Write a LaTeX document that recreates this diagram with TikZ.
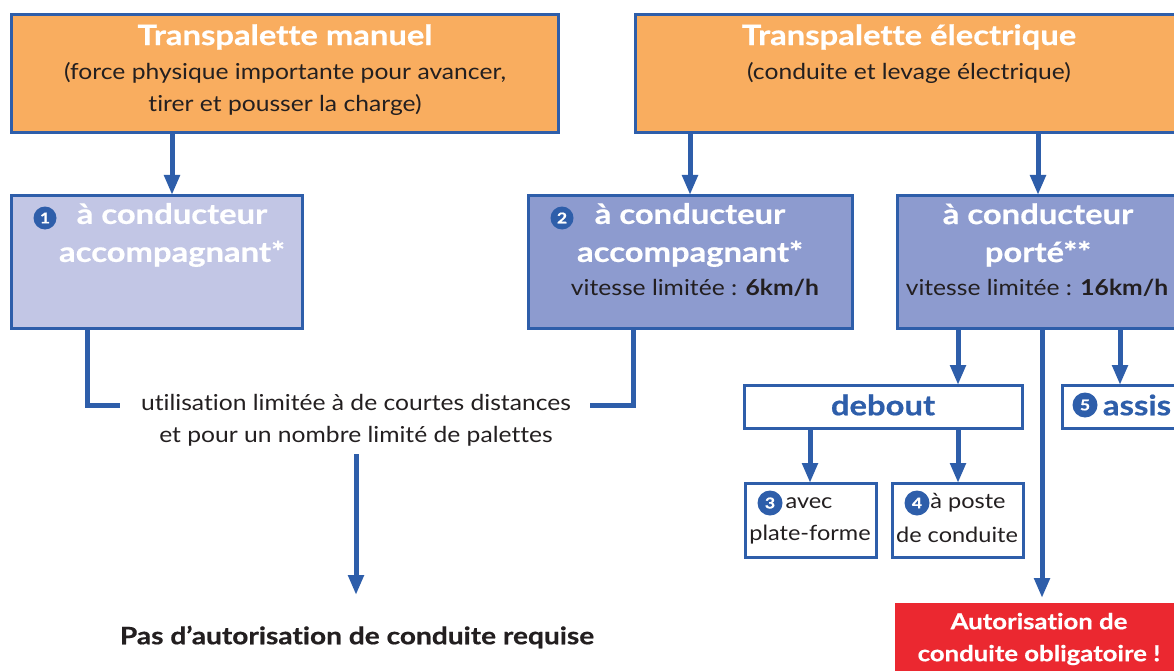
\documentclass[tikz,border=0pt]{standalone}
\usepackage{fontspec}
\setmainfont{Lato}[FakeStretch=1.12, Ligatures={NoCommon}]
\newfontfamily\hfont{Lato}[FakeStretch=1.17, Ligatures={NoCommon}, BoldFeatures={FakeBold=0.6}]
\usetikzlibrary{arrows.meta}
\definecolor{bl}{HTML}{2E5EAA}
\definecolor{org}{HTML}{F9AD5F}
\definecolor{lav}{HTML}{C2C6E5}
\definecolor{lavd}{HTML}{8D9BCF}
\definecolor{rd}{HTML}{EB2830}
\definecolor{ink}{HTML}{231F20}
\begin{document}
\begin{tikzpicture}[x=1pt,y=-1pt,
  box/.style={draw=bl, line width=3pt, inner sep=0pt, outer sep=0pt},
  arr/.style={draw=bl, line width=5pt, -{Triangle[width=15pt,length=20pt]}},
  lin/.style={draw=bl, line width=5pt},
  ttl/.style={text=white, align=center, inner sep=0pt, font=\hfont\fontsize{28}{38}\selectfont\bfseries},
  sub/.style={text=ink, align=center, inner sep=0pt, font=\fontsize{22}{32}\selectfont},
  small/.style={text=ink, align=center, inner sep=0pt, font=\fontsize{21}{32}\selectfont},
  circ/.style={circle, fill=bl, text=white, inner sep=0pt, minimum size=25pt, font=\hfont\fontsize{15}{15}\selectfont\bfseries}]
\useasboundingbox (0,0) rectangle (1174,671);
\fill[white] (0,0) rectangle (1174,671);
\clip (0,0) rectangle (1174,671);

% boxes
\node[box, fill=org, minimum width=547pt, minimum height=118pt] (man) at (284.5,74) {};
\node[box, fill=org, minimum width=548pt, minimum height=118pt] (ele) at (909,74) {};
\node[box, fill=lav, minimum width=291pt, minimum height=133pt] (b1) at (156.5,261.5) {};
\node[box, fill=lavd, minimum width=324pt, minimum height=133pt] (b2) at (690,261.5) {};
\node[box, fill=lavd, minimum width=281pt, minimum height=133pt] (bp) at (1037.5,261.5) {};
\node[box, fill=white, minimum width=278pt, minimum height=43pt] (deb) at (883,406.5) {};
\node[box, fill=white, minimum width=118pt, minimum height=43pt] (ass) at (1121,406.5) {};
\node[box, fill=white, minimum width=131pt, minimum height=74pt] (b3) at (810.5,520) {};
\node[box, fill=white, minimum width=131pt, minimum height=74pt] (b4) at (957.5,520) {};
\node[fill=rd, inner sep=0pt, minimum width=288pt, minimum height=77pt] (red) at (1039,641.5) {};

% texts
\node[ttl] (tman) at (285,37) {Transpalette manuel};
\node[sub] (sman) at (285,89) {(force physique importante pour avancer,\\tirer et pousser la charge)};
\node[ttl] (tele) at (909,37) {Transpalette électrique};
\node[sub] (sele) at (909,73) {(conduite et levage électrique)};
\node[ttl] (t1) at (172,235) {à conducteur\\accompagnant*};
\node[ttl] (t2) at (690,235) {à conducteur\\accompagnant*};
\node[sub] (v2) at (695,288) {vitesse limitée : \textbf{6km/h}};
\node[ttl] (tp) at (1038,235) {à conducteur\\porté**};
\node[sub] (vp) at (1037,288) {vitesse limitée : \textbf{16km/h}};
\node[ttl, text=bl] (tdeb) at (883,405) {debout};
\node[ttl, text=bl] (tass) at (1137,405) {assis};
\node[small] (t3a) at (809,503) {avec};
\node[small] (t3b) at (810,535) {plate-forme};
\node[small] (t4a) at (968,503) {à poste};
\node[small] (t4b) at (957,535) {de conduite};
\node[ttl, font=\hfont\fontsize{22}{32}\selectfont\bfseries] (tred) at (1039,639) {Autorisation de\\conduite obligatoire !};
\node[sub] (use) at (356,420) {utilisation limitée à de courtes distances\\et pour un nombre limité de palettes};
\node[sub, font=\hfont\fontsize{24}{32}\selectfont\bfseries] (pas) at (357,637) {Pas d’autorisation de conduite requise};

% number circles
\node[circ, minimum size=23pt] (n1) at (45,218) {1};
\node[circ, minimum size=23pt] (n2) at (562,218) {2};
\node[circ] (n3) at (770,503) {3};
\node[circ] (n4) at (917,503) {4};
\node[circ] (n5) at (1085,405) {5};

% connector x positions
\coordinate (x172) at (172,0);
\coordinate (x690) at (690,0);
\coordinate (x1038) at (1038,0);
\coordinate (x958) at (958,0);
\coordinate (x1042) at (1042,0);
\coordinate (x1120) at (1120,0);
\coordinate (x810) at (810,0);
\coordinate (x87) at (87,0);
\coordinate (x633) at (633,0);
\coordinate (bl1) at (120,405);
\coordinate (br1) at (590,405);
\coordinate (tipA) at (356,595);
\coordinate (tipR) at (1042,598);

\draw[arr] (man.south -| x172) -- (b1.north -| x172);
\draw[arr] (ele.south -| x690) -- (b2.north -| x690);
\draw[arr] (ele.south -| x1038) -- (bp.north -| x1038);
\draw[arr] (bp.south -| x958) -- (deb.north -| x958);
\draw[arr] (bp.south -| x1120) -- (ass.north -| x1120);
\draw[arr] (bp.south -| x1042) -- (tipR);
\draw[arr] (deb.south -| x810) -- (b3.north -| x810);
\draw[arr] (deb.south -| x958) -- (b4.north -| x958);
\draw[lin] (b1.south -| x87) |- (bl1);
\draw[lin] (br1) -| (b2.south -| x633);
\draw[arr] (use.south) ++(0,8) -- (tipA);
\end{tikzpicture}
\end{document}
